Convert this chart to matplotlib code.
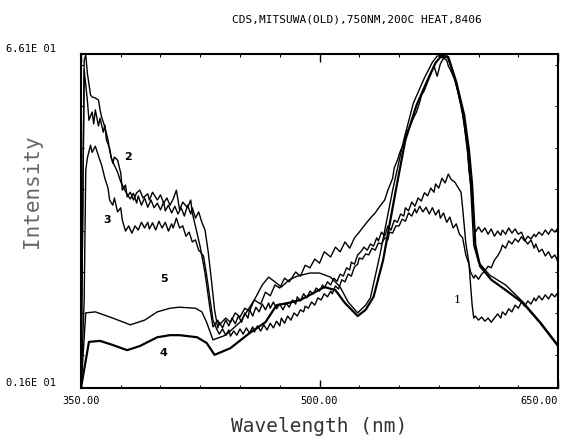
import matplotlib
matplotlib.use("Agg")
import matplotlib.pyplot as plt
from matplotlib.ticker import MultipleLocator

# Spektra 1-5 (nm, intensywnosc)
wl_1 = [350, 352, 354, 355, 357, 358, 359, 361, 362, 364, 365, 366, 368, 369, 371, 373, 375, 377, 379, 381,
        383, 385, 386, 388, 390, 392, 394, 396, 398, 400, 402, 403, 405, 407, 409, 411, 413, 415, 417, 419,
        420, 422, 424, 426, 428, 430, 432, 434, 436,
        437, 439, 441, 443, 445, 447, 449, 451, 453, 455, 456, 458, 460, 462, 464, 466, 468, 469, 471, 473,
        475, 477, 479, 481, 483, 485, 486, 488, 490, 492, 494, 496, 498, 500, 502, 503, 505, 507, 509, 511,
        513, 515, 517, 519, 520, 522, 524, 526, 528, 530, 532, 534, 536, 537, 539, 541, 543, 545, 547, 549,
        551, 553, 554, 556, 558, 560, 562, 564, 566, 568, 570, 572, 573, 575, 577, 579, 581, 583, 585, 587,
        589, 590, 591, 592, 594, 595, 596, 597, 598, 600, 602, 604, 606, 608, 610, 612, 614, 615, 617, 619,
        621, 623, 625, 627, 629, 631, 633, 635, 636, 638, 640, 642, 644, 646, 648, 650]
int_1 = [1.6, 63.0, 57.2, 53.3, 54.9, 52.6, 55.3, 52.2, 53.7, 51.0, 52.4, 49.5, 47.9, 46.0, 44.6, 43.3, 41.4, 40.2, 39.0, 38.1,
         39.2, 37.3, 38.7, 36.9, 38.3, 36.5, 37.9, 36.4, 37.3, 36.0, 37.5, 35.8, 36.9, 35.4, 36.7, 35.2, 36.4, 34.8, 36.9, 35.2,
         36.4, 34.4, 35.6, 33.6, 32.1, 27.9, 22.5, 16.7, 13.2,
         14.3, 13.2, 14.7, 13.6, 15.1, 14.0, 15.5, 14.3, 16.1, 15.1, 16.7, 15.5, 17.2, 16.3, 17.8, 16.7, 18.0, 17.0, 18.2, 16.9,
         17.8, 16.7, 18.0, 17.2, 18.6, 17.8, 19.2, 18.4, 19.8, 19.0, 20.3, 19.8, 20.9, 20.3, 21.5, 20.9, 22.1, 21.5, 22.8, 22.2,
         23.6, 23.2, 24.8, 24.4, 25.9, 25.5, 27.3, 27.9, 28.8, 28.2, 29.4, 29.0, 30.6, 30.0, 31.7, 30.9, 32.9, 32.1, 34.0, 33.6,
         35.2, 34.8, 36.4, 35.8, 37.5, 36.7, 38.3, 37.7, 39.3, 38.7, 40.2, 39.4, 41.0, 40.2, 42.1, 41.2, 42.9, 41.8, 41.4, 40.4,
         39.4, 36.4, 33.1, 29.6, 25.7, 21.5, 17.6, 15.1, 15.5, 14.7, 15.3, 14.5, 15.1, 14.3, 15.1, 15.9, 15.1, 16.3, 15.7, 16.9,
         16.3, 17.6, 17.0, 18.2, 17.4, 18.4, 17.8, 19.0, 18.4, 19.4, 18.6, 19.6, 18.8, 19.8, 19.2, 20.1]

wl_2 = [350, 352, 353, 354, 356, 357, 359, 361, 362, 363, 365, 367, 368, 370, 371, 373, 375, 376, 378, 379,
        381, 383, 385, 387, 389, 392, 393, 395, 398, 400, 402, 404, 406, 408, 410, 412, 414, 417, 419, 420,
        423, 425, 428, 431, 433,
        436, 437, 441, 444, 447, 450, 453, 456, 459, 463, 466, 469, 472, 475, 478, 481, 485, 488, 491, 494,
        497, 500, 503, 507, 510, 513, 516, 519, 522, 525, 529, 532, 535, 538, 541, 543, 546, 547, 549, 551,
        553, 555, 557, 559, 561, 563, 564, 566, 568, 570, 572, 574, 576, 578, 580, 581, 583, 585, 587, 589,
        591, 593, 594, 596, 597, 598, 600, 602, 604, 606, 608, 610, 612, 614, 615, 617, 619, 621, 623, 625,
        627, 629, 631, 633, 635, 636, 638, 640, 642, 644, 646, 648, 650]
int_2 = [1.6, 64.9, 65.9, 62.4, 58.2, 57.8, 57.6, 57.2, 55.3, 53.9, 52.0, 49.5, 47.5, 45.0, 46.2, 45.6, 43.1, 39.8, 40.8, 38.5,
         39.4, 37.9, 39.3, 39.8, 38.3, 39.1, 37.9, 39.4, 37.9, 38.9, 37.3, 38.3, 36.9, 38.1, 39.8, 36.0, 37.5, 36.4, 37.9, 35.4,
         31.5, 28.8, 23.8, 17.2, 13.4,
         14.7, 13.8, 15.1, 14.3, 16.1, 15.3, 17.0, 16.5, 18.6, 17.8, 20.1, 19.4, 21.5, 20.9, 22.8, 22.1, 24.0, 23.2, 25.3, 24.8,
         26.5, 25.7, 27.9, 26.9, 28.8, 27.9, 29.8, 28.6, 30.6, 31.7, 33.3, 34.4, 35.4, 36.7, 37.9, 39.8, 42.1, 44.1, 45.6, 47.5,
         48.7, 51.0, 52.2, 53.7, 54.9, 56.8, 58.0, 59.1, 60.7, 62.2, 63.8, 61.8, 64.2, 65.3, 64.9, 63.8, 62.6, 61.1, 58.8, 56.0,
         52.6, 47.9, 43.7, 38.3, 33.1, 31.7, 32.7, 31.7, 32.5, 31.3, 32.3, 30.9, 31.9, 31.1, 32.1, 31.3, 32.5, 31.5, 32.3, 31.3,
         31.7, 30.2, 29.4, 30.2, 28.6, 29.4, 27.9, 28.4, 27.1, 27.9, 26.7, 27.3, 25.9]

wl_3 = [350, 352, 353, 354, 356, 357, 359, 361, 363, 365, 367, 368, 370, 371, 373, 375, 376, 378, 380, 382,
        384, 386, 388, 390, 392, 393, 395, 397, 399, 401, 403, 405, 407, 408, 410, 412, 414, 416, 418, 420,
        422, 424, 425, 427, 429, 431, 433, 435,
        437, 439, 441, 443, 444, 446, 448, 450, 452, 454, 456, 458, 459, 461, 463, 465, 467, 469, 471, 473,
        475, 476, 478, 480, 482, 484, 486, 488, 490, 491, 493, 495, 497, 499, 501, 503, 505, 507, 508, 510,
        512, 514, 516, 518, 520, 522, 524, 525, 527, 529, 531, 533, 535, 537, 539, 541, 543, 544, 546, 548,
        550, 552, 554, 556, 558, 560, 561, 563, 565, 567, 569, 571, 573, 575, 576, 578, 580, 582, 584, 586,
        588, 590, 591, 592, 594, 595, 597, 598, 600, 602, 604, 606, 608, 610, 612, 614, 615, 617, 619, 621,
        623, 625, 627, 629, 631, 633, 635, 636, 638, 640, 642, 644, 646, 648, 650]
int_3 = [1.6, 18.6, 43.7, 46.0, 48.5, 47.1, 48.3, 46.4, 44.6, 42.1, 40.2, 37.9, 36.9, 38.3, 35.6, 36.4, 34.0, 31.9, 32.9, 31.5,
         32.9, 32.1, 33.6, 32.5, 33.6, 32.3, 33.5, 32.1, 33.8, 32.5, 33.6, 31.9, 33.3, 32.5, 34.4, 32.5, 32.9, 30.9, 31.7, 29.8,
         30.2, 28.2, 27.9, 27.1, 23.4, 19.0, 14.7, 13.2,
         12.0, 13.0, 11.8, 12.8, 11.6, 12.6, 11.8, 13.0, 12.0, 13.2, 12.2, 13.4, 12.4, 13.6, 12.6, 13.8, 12.8, 14.1, 13.2, 14.5,
         13.6, 15.1, 14.1, 15.5, 14.7, 16.1, 15.5, 16.7, 16.3, 17.4, 17.0, 18.2, 17.6, 19.0, 18.6, 19.8, 19.2, 20.3, 19.8, 21.3,
         20.7, 22.5, 22.1, 23.6, 23.2, 25.0, 25.5, 26.7, 26.5, 27.5, 27.3, 28.6, 28.2, 29.6, 29.4, 30.6, 30.2, 31.7, 31.5, 32.9,
         32.9, 34.2, 33.8, 35.4, 34.8, 36.2, 35.4, 36.7, 35.6, 36.5, 35.2, 36.4, 35.0, 36.0, 34.4, 35.4, 33.6, 34.6, 32.5, 33.3,
         31.3, 30.6, 29.0, 27.3, 25.5, 24.0, 22.8, 23.4, 22.6, 23.6, 24.2, 25.1, 24.8, 26.3, 27.1, 28.2, 29.2, 28.6, 30.0, 29.4,
         30.4, 29.8, 30.8, 30.0, 30.9, 30.4, 31.3, 30.8, 31.7, 31.1, 32.1, 31.3, 32.3, 31.7, 32.5]

wl_4 = [350, 355, 362, 370, 379, 387, 398, 406, 412, 423, 429, 434, 444, 456, 466, 473, 480, 488, 496, 503,
        510, 516, 524, 529, 534, 540, 548, 554, 561, 568, 573, 576, 581, 586, 591, 594, 596, 597, 598, 601,
        608, 618, 628, 639, 650]
int_4 = [1.6, 10.5, 10.7, 9.9, 8.9, 9.7, 11.4, 11.8, 11.8, 11.4, 10.3, 8.0, 9.3, 12.2, 14.3, 17.6, 18.0, 18.6, 19.9, 21.1,
         20.5, 18.0, 15.5, 16.7, 19.2, 26.3, 39.8, 49.5, 56.2, 61.1, 64.4, 65.5, 65.5, 60.7, 54.3, 47.5, 40.8, 35.0, 29.2, 25.1,
         22.5, 20.3, 18.0, 14.1, 9.7]

wl_5 = [350, 353, 359, 370, 381, 390, 398, 406, 412, 422, 426, 429, 433, 441, 450, 459, 464, 468, 472, 476,
        481, 486, 494, 500, 507, 513, 518, 524, 529, 532, 538, 546, 553, 559, 566, 571, 574, 580, 585, 590,
        593, 595, 596, 597, 600, 607, 617, 628, 639, 650]
int_5 = [1.6, 16.1, 16.3, 15.1, 13.8, 14.7, 16.3, 17.0, 17.2, 17.0, 16.3, 14.3, 10.9, 11.8, 14.3, 18.6, 21.5, 23.0, 22.1, 21.1,
         22.5, 23.2, 23.8, 23.8, 23.0, 21.1, 18.2, 16.1, 17.6, 19.0, 27.3, 39.8, 49.5, 56.6, 61.5, 64.5, 65.7, 65.9, 61.5, 54.7,
         47.5, 40.8, 35.0, 29.2, 25.9, 23.4, 21.5, 18.2, 14.3, 9.9]

x_ticks = [350, 500, 650]
x_tick_labels = ["350.00", "500.00", "650.00"]
y_ticks = [1.6, 66.1]
y_tick_labels = ["0.16E 01", "6.61E 01"]

mono = "DejaVu Sans Mono"

fig = plt.figure(figsize=(5.66, 4.41), dpi=100)
ax = fig.add_axes([0.1431, 0.1202, 0.8428, 0.7574])

for wl, it in [(wl_1, int_1), (wl_2, int_2), (wl_3, int_3), (wl_5, int_5)]:
    ax.plot(wl, it, color="black", lw=1.0)
ax.plot(wl_4, int_4, color="black", lw=1.6)

# numery krzywych
ax.text(379.6, 46.2, "2", fontsize=8, fontweight="bold", ha="center", va="center")
ax.text(366.2, 34.0, "3", fontsize=8, fontweight="bold", ha="center", va="center")
ax.text(402.2, 22.6, "5", fontsize=8, fontweight="bold", ha="center", va="center")
ax.text(401.6, 8.3, "4", fontsize=8, fontweight="bold", ha="center", va="center")
ax.text(586.5, 18.6, "1", fontsize=8, family="DejaVu Serif", ha="center", va="center")

ax.set_xlim(350, 650)
ax.set_ylim(1.6, 66.1)
ax.set_xticks(x_ticks)
ax.set_xticklabels(x_tick_labels, family=mono, fontsize=7.5)
labs = ax.get_xticklabels()
labs[2].set_ha("right")
ax.set_yticks(y_ticks)
ax.set_yticklabels(y_tick_labels, family=mono, fontsize=7.5, va="bottom")
ax.xaxis.set_minor_locator(MultipleLocator(25))
ax.yaxis.set_minor_locator(MultipleLocator(8))
ax.tick_params(axis="x", which="major", direction="in", length=6, width=1, top=True, pad=6)
ax.tick_params(axis="y", which="major", length=0, pad=18)
ax.tick_params(which="minor", direction="in", length=2.5, width=0.8, top=True, right=True)
for s in ax.spines.values():
    s.set_linewidth(1.5)

ax.set_xlabel("Wavelength (nm)", family=mono, fontsize=14, color="#333333")
ax.xaxis.set_label_coords(0.5, -0.088)
ax.set_ylabel("Intensity", family=mono, fontsize=15, color="#666666")
ax.yaxis.set_label_coords(-0.082, 0.59)
fig.text(0.63, 0.955, "CDS,MITSUWA(OLD),750NM,200C HEAT,8406", family=mono, fontsize=8,
         ha="center", va="center")

fig.savefig("out.png", dpi=100)
